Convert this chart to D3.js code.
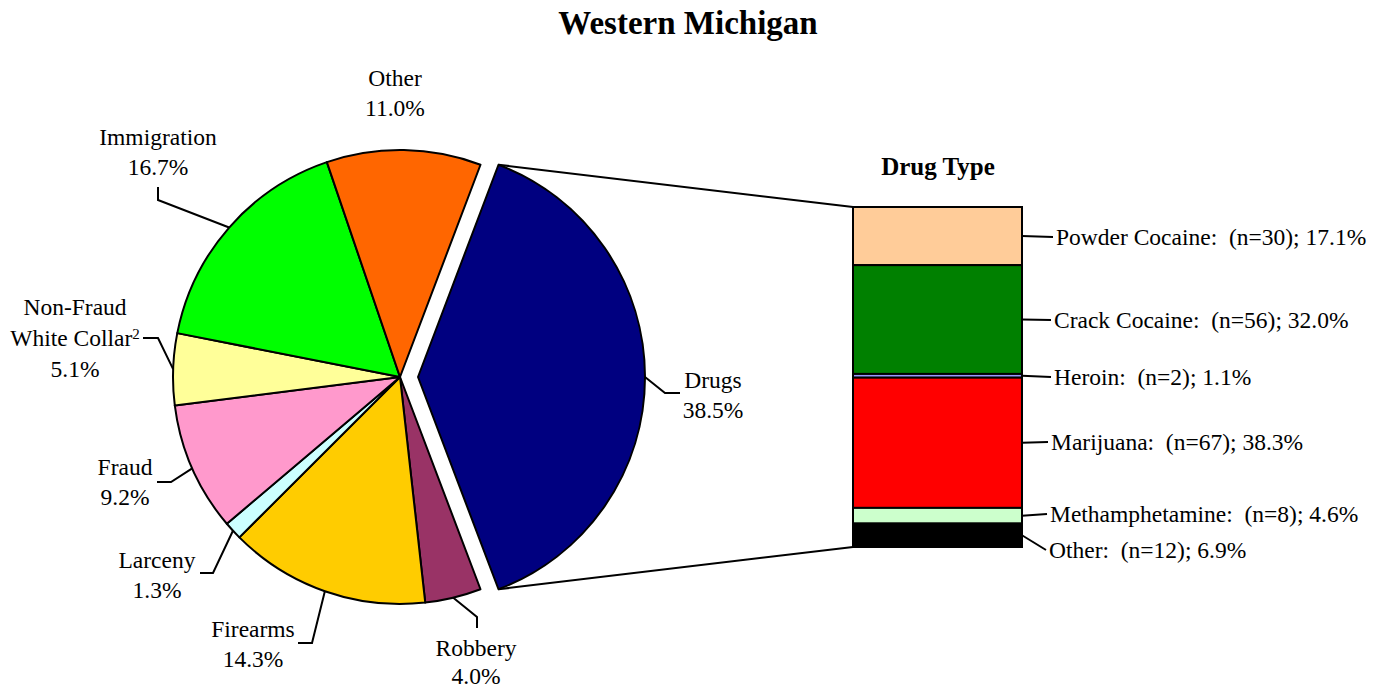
<!DOCTYPE html>
<html>
<head>
<meta charset="utf-8">
<script src="https://cdn.jsdelivr.net/npm/d3@7/dist/d3.min.js"></script>
<style>
  html, body { margin: 0; padding: 0; background: #fff; }
  svg text { font-family: "Liberation Serif", "Times New Roman", serif; fill: #000; }
</style>
</head>
<body>
<svg id="chart" width="1388" height="690"></svg>
<script>
// ---- data ----
const categories = ["Drugs", "Robbery", "Firearms", "Larceny", "Fraud", "Non-Fraud White Collar", "Immigration", "Other"];
const shares = [38.5, 4.0, 14.3, 1.3, 9.2, 5.1, 16.7, 11.0];
const sliceColors = ["#000080", "#993366", "#FFCC00", "#CCFFFF", "#FF99CC", "#FFFF99", "#00FF00", "#FF6600"];

const drugTypes = ["Powder Cocaine", "Crack Cocaine", "Heroin", "Marijuana", "Methamphetamine", "Other"];
const drugCounts = [30, 56, 2, 67, 8, 12];
const drugShares = [17.1, 32.0, 1.1, 38.3, 4.6, 6.9];
const drugColors = ["#FFCC99", "#008000", "#9999FF", "#FF0000", "#CCFFCC", "#000000"];

const chartTitle = "Western Michigan";
const barTitle = "Drug Type";

// ---- layout ----
const W = 1388, H = 690;
const cx = 400, cy = 377, R = 227, explode = 18;
const fontSize = 23.5;
const lineGap = 30;

// label layout for pie slices: text center x, first line center y, leader elbow & end
const pieLabelLayout = {
  "Drugs":                  {x: 713, y: 380, lines: ["Drugs"], elbow: [665, 393], end: [680, 393]},
  "Robbery":                {x: 476, y: 648, gap: 28, lines: ["Robbery"], elbow: [477, 617], end: [477, 628]},
  "Firearms":               {x: 253, y: 629, lines: ["Firearms"], elbow: [312, 643], end: [298, 643]},
  "Larceny":                {x: 157, y: 560, lines: ["Larceny"], elbow: [213, 573], end: [200, 573]},
  "Fraud":                  {x: 125, y: 467, lines: ["Fraud"], elbow: [171, 482], end: [157, 482]},
  "Non-Fraud White Collar": {x: 75,  y: 307, lines: ["Non-Fraud", "White Collar"], sup: "2", gap: 31, elbow: [158, 338], end: [143, 338]},
  "Immigration":            {x: 158, y: 137, lines: ["Immigration"], elbow: [158, 200], end: [158, 187]},
  "Other":                  {x: 395, y: 78,  lines: ["Other"]}
};

const svg = d3.select("#chart");

// title
svg.append("text")
  .attr("x", 688).attr("y", 22).attr("dy", "0.35em")
  .attr("text-anchor", "middle")
  .style("font-size", "33px").style("font-weight", "bold")
  .text(chartTitle);

// ---- pie ----
const total = d3.sum(shares);
const drugsSpan = shares[0] / total * 2 * Math.PI;
const startA = Math.PI / 2 - drugsSpan / 2;
const pie = d3.pie().sort(null).value(d => d.v)
  .startAngle(startA).endAngle(startA + 2 * Math.PI);
const arcs = pie(categories.map((c, i) => ({c, v: shares[i], color: sliceColors[i]})));
const arc = d3.arc().innerRadius(0).outerRadius(R);

const g = svg.append("g").attr("transform", `translate(${cx},${cy})`);

function offsetOf(d) {
  if (d.data.c !== "Drugs") return [0, 0];
  const m = (d.startAngle + d.endAngle) / 2;
  return [explode * Math.sin(m), -explode * Math.cos(m)];
}

g.selectAll("path.slice").data(arcs).join("path")
  .attr("class", "slice")
  .attr("d", arc)
  .attr("transform", d => `translate(${offsetOf(d)})`)
  .attr("fill", d => d.data.color)
  .attr("stroke", "#000").attr("stroke-width", 2).attr("stroke-linejoin", "round");

// ---- drug bar ----
const barX0 = 853, barX1 = 1022, barY0 = 207, barY1 = 547;
const yScale = d3.scaleLinear().domain([0, d3.sum(drugShares)]).range([barY0, barY1]);
let acc = 0;
const segs = drugTypes.map((t, i) => {
  const s = {t, n: drugCounts[i], p: drugShares[i], color: drugColors[i], y0: acc, y1: acc + drugShares[i]};
  acc += drugShares[i];
  return s;
});

// connector lines from exploded Drugs slice to bar
const dArc = arcs[0];
const off = offsetOf(dArc);
const topPt = [cx + off[0] + R * Math.sin(dArc.startAngle), cy + off[1] - R * Math.cos(dArc.startAngle)];
const botPt = [cx + off[0] + R * Math.sin(dArc.endAngle), cy + off[1] - R * Math.cos(dArc.endAngle)];
svg.append("line").attr("x1", topPt[0]).attr("y1", topPt[1]).attr("x2", barX0).attr("y2", yScale(0))
  .attr("stroke", "#000").attr("stroke-width", 2);
svg.append("line").attr("x1", botPt[0]).attr("y1", botPt[1]).attr("x2", barX0).attr("y2", yScale(acc))
  .attr("stroke", "#000").attr("stroke-width", 2);

svg.selectAll("rect.seg").data(segs).join("rect")
  .attr("class", "seg")
  .attr("x", barX0).attr("width", barX1 - barX0)
  .attr("y", d => yScale(d.y0)).attr("height", d => yScale(d.y1) - yScale(d.y0))
  .attr("fill", d => d.color)
  .attr("stroke", "#000").attr("stroke-width", 2);

svg.append("text")
  .attr("x", 938).attr("y", 166).attr("dy", "0.35em")
  .attr("text-anchor", "middle")
  .style("font-size", "25px").style("font-weight", "bold")
  .text(barTitle);

// bar labels
const barLabelY = [237, 320, 377, 442, 514, 550];
const barLabelX = [1056, 1054, 1054, 1051, 1050, 1049];
segs.forEach((s, i) => {
  const my = (yScale(s.y0) + yScale(s.y1)) / 2;
  svg.append("polyline")
    .attr("points", `${barX1},${my} ${barLabelX[i] - 3},${barLabelY[i]}`)
    .attr("fill", "none").attr("stroke", "#000").attr("stroke-width", 2);
  svg.append("text")
    .attr("x", barLabelX[i]).attr("y", barLabelY[i]).attr("dy", "0.35em")
    .style("font-size", fontSize + "px")
    .attr("xml:space", "preserve")
    .style("white-space", "pre")
    .text(`${s.t}:  (n=${s.n}); ${s.p.toFixed(1)}%`);
});

// pie labels
arcs.forEach(d => {
  const L = pieLabelLayout[d.data.c];
  const gap = L.gap || lineGap;
  const m = (d.startAngle + d.endAngle) / 2;
  const off = offsetOf(d);
  if (L.elbow) {
    const sx = cx + off[0] + R * Math.sin(m), sy = cy + off[1] - R * Math.cos(m);
    svg.append("polyline")
      .attr("points", `${sx},${sy} ${L.elbow[0]},${L.elbow[1]} ${L.end[0]},${L.end[1]}`)
      .attr("fill", "none").attr("stroke", "#000").attr("stroke-width", 2);
  }
  const lines = L.lines.concat([d.data.v.toFixed(1) + "%"]);
  lines.forEach((ln, k) => {
    const t = svg.append("text")
      .attr("x", L.x).attr("y", L.y + k * gap).attr("dy", "0.35em")
      .attr("text-anchor", "middle")
      .style("font-size", fontSize + "px");
    t.append("tspan").text(ln);
    if (L.sup && k === L.lines.length - 1) {
      t.append("tspan").attr("dy", "-0.5em").style("font-size", "15px").text(L.sup);
    }
  });
});
</script>
</body>
</html>
